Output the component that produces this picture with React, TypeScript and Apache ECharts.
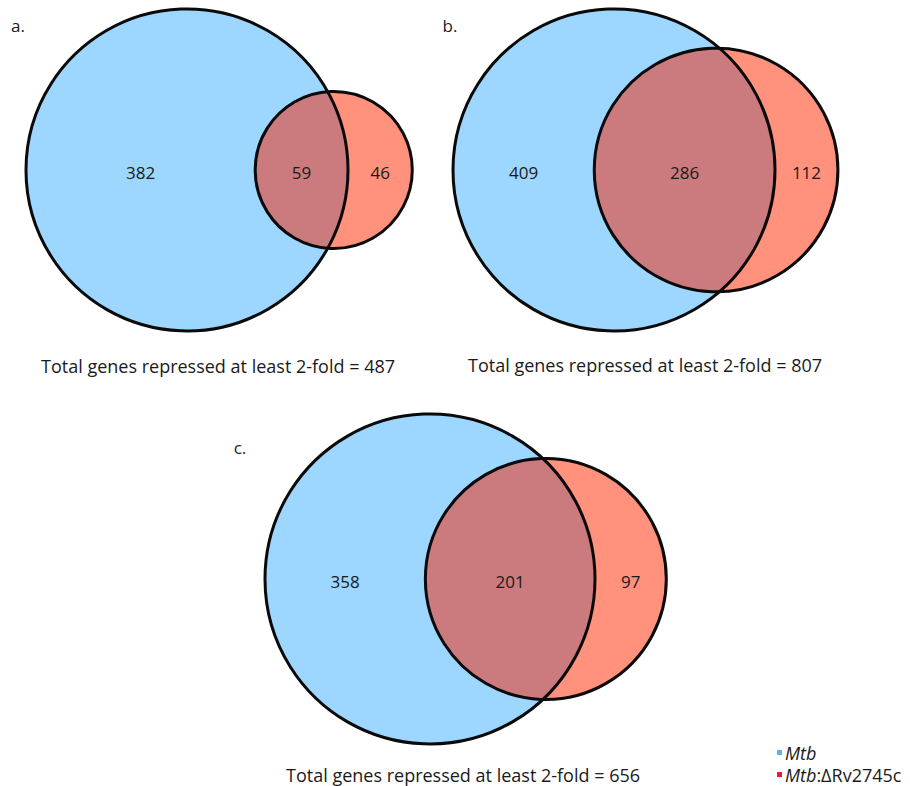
import React, { useEffect, useRef } from "react";
import * as echarts from "echarts";

// Gene counts per panel: repressed only in Mtb, in both strains, only in the mutant
const panelLetters = ["a.", "b.", "c."];
const mtbOnly = [382, 409, 358];
const shared = [59, 286, 201];
const mutantOnly = [46, 112, 97];
const captionPrefix = "Total genes repressed at least 2-fold = ";
const legendLabels = ["Mtb", "Mtb:ΔRv2745c"];

// Layout in pixels
const panelCenters = [
  [187, 170],
  [614, 170],
  [430, 579],
];
const mtbRadiusPx = [161, 161, 165];
const captionPos = [
  [218, 366],
  [645, 365],
  [463, 775],
];
const letterPos = [
  [18, 25],
  [450, 25],
  [240, 447],
];
const GRID_HALF = 100;

const BLUE = "#9dd6fe";
const RED = "#ff917d";
const BOTH = "#cb7b7e";
const EDGE = "#0a0a0a";
const FONT = "'Open Sans', 'Noto Sans', sans-serif";

// Area of the lens shared by two circles of radii r1, r2 whose centres are d apart
function lensArea(r1: number, r2: number, d: number): number {
  if (d >= r1 + r2) return 0;
  if (d <= Math.abs(r1 - r2)) return Math.PI * Math.min(r1, r2) ** 2;
  const a1 = Math.acos((d * d + r1 * r1 - r2 * r2) / (2 * d * r1));
  const a2 = Math.acos((d * d + r2 * r2 - r1 * r1) / (2 * d * r2));
  const k = Math.sqrt((-d + r1 + r2) * (d + r1 - r2) * (d - r1 + r2) * (d + r1 + r2));
  return r1 * r1 * a1 + r2 * r2 * a2 - 0.5 * k;
}

// Centre distance that makes the lens area equal to the shared count
function solveDistance(r1: number, r2: number, target: number): number {
  let lo = Math.abs(r1 - r2);
  let hi = r1 + r2;
  for (let i = 0; i < 80; i++) {
    const mid = (lo + hi) / 2;
    if (lensArea(r1, r2, mid) > target) lo = mid;
    else hi = mid;
  }
  return (lo + hi) / 2;
}

const fmt = (n: number) => n.toFixed(2);

function renderVenn(params: any, api: any) {
  const rA = api.value(2);
  const dB = api.value(3);
  const rB = api.value(4);
  const nA = api.value(5);
  const nAB = api.value(6);
  const nB = api.value(7);

  const [ax, ay] = api.coord([0, 0]);
  const [bx] = api.coord([dB, 0]);
  const pa = api.size([rA, 0])[0];
  const pb = api.size([rB, 0])[0];
  const dp = bx - ax;
  const xc = (dp * dp + pa * pa - pb * pb) / (2 * dp);
  const h = Math.sqrt(Math.max(pa * pa - xc * xc, 0));
  const p1 = `${fmt(ax + xc)} ${fmt(ay - h)}`;
  const p2 = `${fmt(ax + xc)} ${fmt(ay + h)}`;
  const lens =
    `M ${p1} A ${fmt(pa)} ${fmt(pa)} 0 ${xc < 0 ? 1 : 0} 1 ${p2} ` +
    `A ${fmt(pb)} ${fmt(pb)} 0 ${xc > dp ? 1 : 0} 1 ${p1} Z`;

  const labelY = ay + 2;
  const label = (text: number, x: number) => ({
    type: "text",
    x,
    y: labelY,
    style: {
      text: String(text),
      fill: "#1a1a1a",
      fontSize: 17,
      fontFamily: FONT,
      align: "center",
      verticalAlign: "middle",
      textAlign: "center",
      textVerticalAlign: "middle",
    },
  });

  return {
    type: "group",
    children: [
      { type: "circle", shape: { cx: ax, cy: ay, r: pa }, style: { fill: BLUE } },
      { type: "circle", shape: { cx: bx, cy: ay, r: pb }, style: { fill: RED } },
      { type: "path", shape: { pathData: lens }, style: { fill: BOTH } },
      {
        type: "circle",
        shape: { cx: ax, cy: ay, r: pa },
        style: { fill: "none", stroke: EDGE, lineWidth: 3 },
      },
      {
        type: "circle",
        shape: { cx: bx, cy: ay, r: pb },
        style: { fill: "none", stroke: EDGE, lineWidth: 3 },
      },
      label(nA, (ax - pa + (bx - pb)) / 2),
      label(nAB, (bx - pb + (ax + pa)) / 2),
      label(nB, (ax + pa + (bx + pb)) / 2),
    ],
  };
}

function buildOption() {
  const grids: any[] = [];
  const xAxes: any[] = [];
  const yAxes: any[] = [];
  const series: any[] = [];
  const graphic: any[] = [];

  mtbOnly.forEach((onlyA, i) => {
    const totalA = onlyA + shared[i];
    const totalB = mutantOnly[i] + shared[i];
    // circle areas equal gene counts
    const rA = Math.sqrt(totalA / Math.PI);
    const rB = Math.sqrt(totalB / Math.PI);
    const d = solveDistance(rA, rB, shared[i]);
    const scale = mtbRadiusPx[i] / rA;
    const half = GRID_HALF / scale;
    const [cx, cy] = panelCenters[i];

    grids.push({
      left: cx - GRID_HALF,
      top: cy - GRID_HALF,
      width: GRID_HALF * 2,
      height: GRID_HALF * 2,
    });
    xAxes.push({ type: "value", gridIndex: i, min: -half, max: half, show: false });
    yAxes.push({ type: "value", gridIndex: i, min: -half, max: half, show: false });
    series.push({
      type: "custom",
      name: panelLetters[i],
      xAxisIndex: i,
      yAxisIndex: i,
      clip: false,
      silent: true,
      renderItem: renderVenn,
      data: [[0, 0, rA, d, rB, onlyA, shared[i], mutantOnly[i]]],
    });

    const total = onlyA + shared[i] + mutantOnly[i];
    graphic.push({
      type: "text",
      x: captionPos[i][0],
      y: captionPos[i][1],
      style: {
        text: captionPrefix + total,
        fill: "#1a1a1a",
        fontSize: 18,
        fontFamily: FONT,
        textAlign: "center",
        textVerticalAlign: "middle",
      },
    });
    graphic.push({
      type: "text",
      x: letterPos[i][0],
      y: letterPos[i][1],
      style: {
        text: panelLetters[i],
        fill: "#1a1a1a",
        fontSize: 17,
        fontFamily: FONT,
        textAlign: "center",
        textVerticalAlign: "middle",
      },
    });
  });

  // Legend
  const legendColors = ["#62aef2", "#ee1c1c"];
  const legendY = [753, 775];
  legendLabels.forEach((name, i) => {
    graphic.push({
      type: "rect",
      shape: { x: 777, y: legendY[i] - 3, width: 5, height: 5 },
      style: { fill: legendColors[i] },
    });
    const [strain, rest] = name.split(":");
    graphic.push({
      type: "text",
      x: 785,
      y: legendY[i],
      style: {
        text: rest ? `{i|${strain}}:${rest}` : `{i|${strain}}`,
        fill: "#1a1a1a",
        fontSize: 18,
        fontFamily: FONT,
        textVerticalAlign: "middle",
        rich: {
          i: { fontStyle: "italic", fontSize: 18, fontFamily: FONT, fill: "#1a1a1a" },
        },
      },
    });
  });

  return {
    animation: false,
    backgroundColor: "#ffffff",
    grid: grids,
    xAxis: xAxes,
    yAxis: yAxes,
    series,
    graphic,
  };
}

export default function App() {
  const ref = useRef<HTMLDivElement>(null);

  useEffect(() => {
    if (!ref.current) return;
    const chart = echarts.init(ref.current, undefined, { renderer: "svg" });
    chart.setOption(buildOption() as any);
    return () => chart.dispose();
  }, []);

  return (
    <div
      ref={ref}
      style={{ position: "fixed", left: 0, top: 0, width: 910, height: 786 }}
    />
  );
}
